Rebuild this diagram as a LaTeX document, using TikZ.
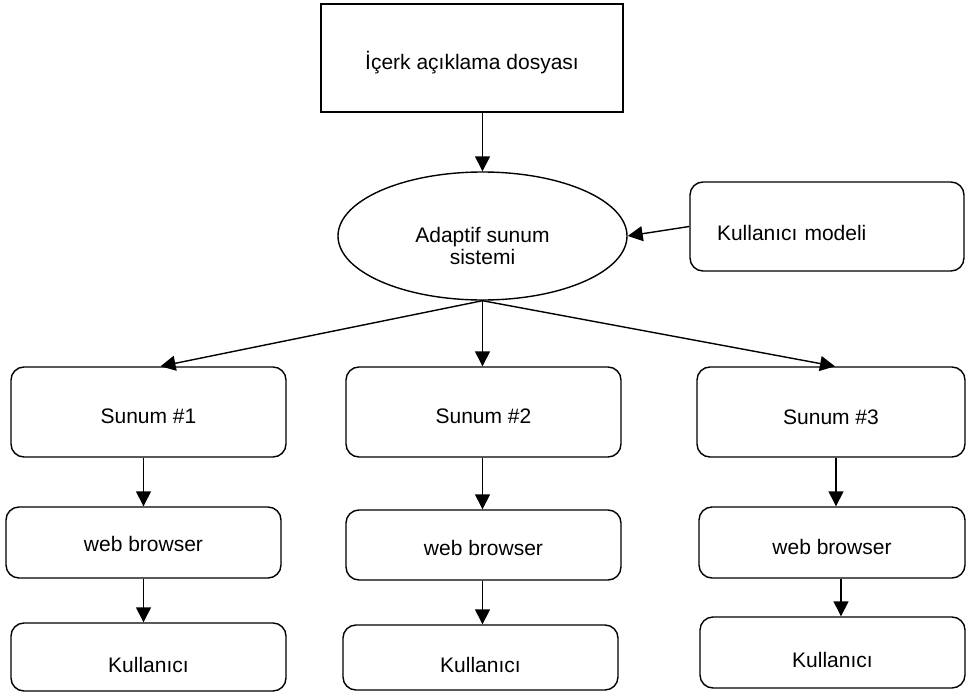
\documentclass[tikz,border=0pt]{standalone}
\usepackage{fontspec}
\setmainfont{Liberation Sans}
\usetikzlibrary{shapes.geometric,arrows.meta,calc}
\begin{document}
\begin{tikzpicture}[x=1pt,y=-1pt,
  every node/.style={font=\fontsize{21}{23}\selectfont, text=black},
  sq/.style={draw, line width=1.4pt, inner sep=0pt},
  box/.style={draw, line width=1.4pt, rounded corners=13pt, inner sep=0pt},
  oval/.style={draw, ellipse, line width=1.4pt, inner sep=0pt},
  tdown/.style={text height=#1, text depth=0pt},
  arr/.style={line width=1.4pt, -{Triangle[length=15pt,width=15pt]}}]
\useasboundingbox (0,0) rectangle (966,693);

\node[sq, minimum width=302pt, minimum height=108pt, tdown=23pt] (top) at (472,58) {İçerk açıklama dosyası};
\node[oval, minimum width=289pt, minimum height=128pt,
  label={[yshift=-10pt, align=center, font=\fontsize{21}{22}\selectfont]center:Adaptif sunum\\sistemi}] (ads) at (482.5,236) {};
\node[box, minimum height=89pt, text width=220pt, inner xsep=27pt, align=left, tdown=28pt] (um) at (827,226.5) {Kullanıcı modeli};

\node[box, minimum width=275pt, minimum height=90pt, tdown=23pt] (s1) at (148.5,412) {Sunum \#1};
\node[box, minimum width=275pt, minimum height=71pt, tdown=17pt] (w1) at (143.5,542.5) {web browser};
\node[box, minimum width=275pt, minimum height=68pt, tdown=30pt] (k1) at (148.5,657) {Kullanıcı};

\node[box, minimum width=275pt, minimum height=90pt, tdown=23pt] (s2) at (483.5,412) {Sunum \#2};
\node[box, minimum width=275pt, minimum height=70pt, tdown=21pt] (w2) at (483.5,545) {web browser};
\node[box, minimum width=275pt, minimum height=65pt, tdown=30pt] (k2) at (480.5,657.5) {Kullanıcı};

\node[box, minimum width=268pt, minimum height=90pt, tdown=24pt] (s3) at (831,412) {Sunum \#3};
\node[box, minimum width=266pt, minimum height=71pt, tdown=23pt] (w3) at (832,542.5) {web browser};
\node[box, minimum width=265pt, minimum height=71pt, tdown=30pt] (k3) at (832.5,652.5) {Kullanıcı};

\draw[arr] (ads.north |- top.south) -- (ads.north);
\draw[arr] (um.west) -- (ads.east);
\draw[arr] (ads.south) -- ($(s1.north)+(12,0)$);
\draw[arr] (ads.south) -- (ads.south |- s2.north);
\draw[arr] (ads.south) -- ($(s3.north)+(4,0)$);

\draw[arr] (w1.north |- s1.south) -- (w1.north);
\draw[arr] (w1.south) -- (w1.south |- k1.north);
\draw[arr] (ads.south |- s2.south) -- (ads.south |- w2.north);
\draw[arr] (ads.south |- w2.south) -- (ads.south |- k2.north);
\draw[arr] ($(s3.south)+(5,0)$) -- ($(s3.south |- w3.north)+(5,0)$);
\draw[arr] ($(w3.south)+(9,0)$) -- ($(w3.south |- k3.north)+(9,0)$);
\end{tikzpicture}
\end{document}
